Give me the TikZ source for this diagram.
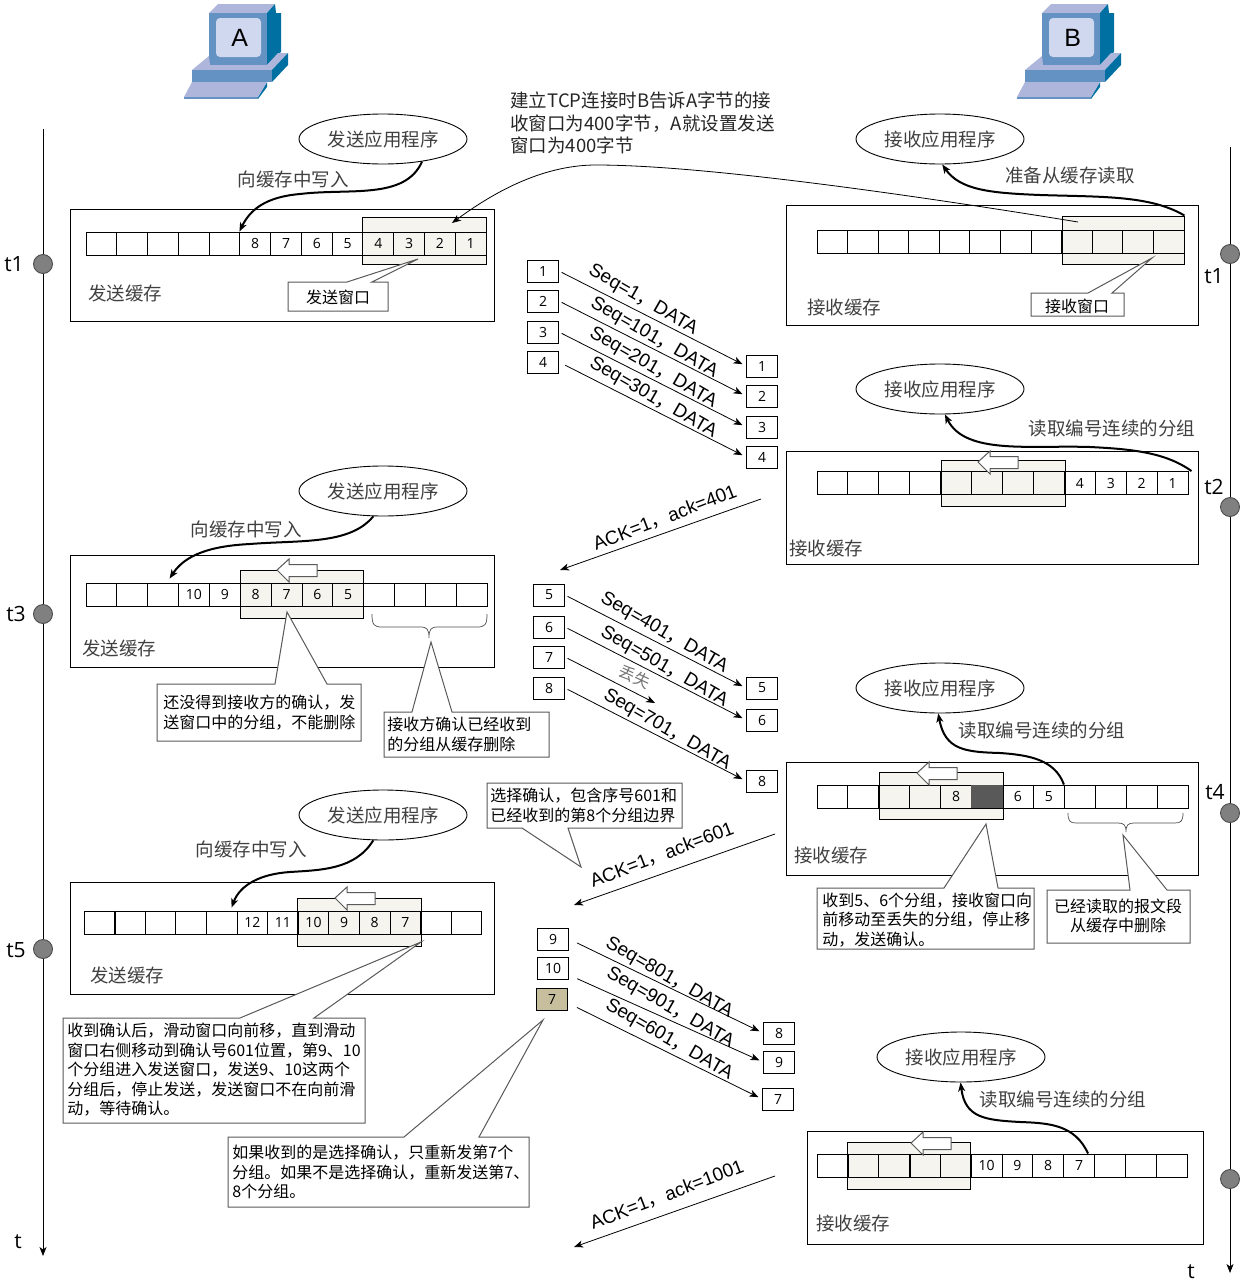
\documentclass[tikz,border=0pt]{standalone}
\usepackage{fontspec}
\usepackage{xcolor}
\usepackage{tikz}
\usetikzlibrary{shapes.geometric, arrows.meta}
\setmainfont{Noto Sans CJK SC}
\newfontfamily\numfont{Open Sans}
\newfontfamily\seqfont{Liberation Sans}
\definecolor{winfill}{HTML}{F5F4EE}
\definecolor{deadcell}{HTML}{595959}
\definecolor{resent}{HTML}{C6BE9C}
\definecolor{pcfront}{HTML}{6492C2}
\definecolor{pctop}{HTML}{AEB6DC}
\definecolor{pcside}{HTML}{0070A2}
\definecolor{pcscreen}{HTML}{D0D8F0}
\newcommand{\cellrow}[5]{\foreach \t [count=\i] in {#5} \node[cell, minimum width=#4pt] (#1\i) at ({#2+(\i-0.5)*#4},#3) {\t};}
\newcommand{\hollow}[2]{\draw[shiftarrow] (#1,#2) -- ++(12,-11) -- ++(0,5.5) -- ++(28,0) -- ++(0,12) -- ++(-28,0) -- ++(0,5.5) -- cycle;}
\tikzset{pics/host/.style={code={
	\fill[pctop] (-30,-25) -- (-21,-34) -- (36,-34) -- (28,-25) -- cycle;
	\fill[pcside] (28,-25) -- (36,-34) -- (37,-25) -- (42,-25) -- (42,14) -- (33,22) -- (28,27) -- cycle;
	\fill[pcfront] (-30,-25) rectangle (28,27);
	\fill[pcscreen, rounded corners=4pt] (-23,-20) rectangle (22,19);
	\fill[pctop] (-47,32) -- (-30,18) -- (-29,27) -- (28,27) -- (39,15) -- (49,15) -- (33,32) -- cycle;
	\fill[pcfront] (-47,32) rectangle (33,44);
	\fill[pcside] (33,32) -- (49,15) -- (49,27) -- (33,44) -- cycle;
	\fill[pcside] (19,61) -- (28,49) -- (28,44) -- (19,59) -- cycle;
	\fill[pctop] (-47,44) -- (28,44) -- (19,59) -- (-55,59) -- cycle;
	\fill[pcfront] (-55,59) rectangle (19,61);
	\node[font=\seqfont\fontsize{25}{25}\selectfont] (-name) at (0.7,0) {#1};
}}}
\begin{document}
\begin{tikzpicture}[x=1pt, y=-1pt, line width=0.9pt, >={Stealth[length=9pt,width=7pt,inset=2.5pt]}]
	\tikzstyle{frame}=[draw=black, inner sep=0pt]
	\tikzstyle{win}=[draw=black, fill=winfill, inner sep=0pt]
	\tikzstyle{cell}=[draw=black, inner sep=0pt, minimum height=23pt, font=\numfont\fontsize{14}{14}\selectfont]
	\tikzstyle{pkt}=[draw=black, fill=white, inner sep=0pt, minimum width=31pt, minimum height=22pt, font=\numfont\fontsize{14}{14}\selectfont]
	\tikzstyle{app}=[ellipse, draw=black, inner sep=0pt, minimum width=168pt, minimum height=50pt, text=black!75, font=\fontsize{18.5}{18.5}\selectfont]
	\tikzstyle{lbl}=[inner sep=0pt, yshift=-1pt, text=black!75, font=\fontsize{18.5}{18.5}\selectfont]
	\tikzstyle{seq}=[inner sep=0pt, yshift=-3pt, rotate=-30, font=\seqfont\fontsize{19}{19}\selectfont]
	\tikzstyle{ack}=[inner sep=0pt, rotate=21, font=\seqfont\fontsize{19}{19}\selectfont]
	\tikzstyle{msg}=[thin, line width=0.8pt, ->, shorten <=3pt, shorten >=4pt]
	\tikzstyle{flow}=[line width=2pt, ->]
	\tikzstyle{note}=[draw=black!65, fill=white, line width=1pt]
	\tikzstyle{notetext}=[inner sep=0pt, anchor=west, align=left, font=\fontsize{16}{19.5}\selectfont]
	\tikzstyle{shiftarrow}=[draw=black!65, fill=white, line width=1pt]
	\tikzstyle{brk}=[draw=black!70, line width=0.7pt]
	\tikzstyle{tick}=[circle, draw=black!70, fill=black!50, inner sep=0pt, minimum size=19pt]
	\tikzstyle{tlabel}=[inner sep=0pt, font=\numfont\fontsize{21}{21}\selectfont]
	\useasboundingbox (0,0) rectangle (1246,1285);

	\pic (hostA) at (239,38) {host=A};
	\pic (hostB) at (1072,38) {host=B};

	\coordinate (topL) at (43,129);
	\coordinate (endL) at (43,1256);
	\coordinate (topR) at (1230,147);
	\coordinate (endR) at (1230,1273);
	\draw[line width=0.8pt, ->] (topL) -- (endL);
	\draw[line width=0.8pt, ->] (topR) -- (endR);
	\node[tick] (tL1) at (43,264) {};
	\node[tick] (tL3) at (43,614) {};
	\node[tick] (tL5) at (43,949) {};
	\node[tick] (tR1) at (1230,254) {};
	\node[tick] (tR2) at (1230,507) {};
	\node[tick] (tR4) at (1230,813) {};
	\node[tick] (tR6) at (1230,1179) {};
	\node[tlabel] (lt1) at (14,264) {t1};
	\node[tlabel] (lt3) at (16,614) {t3};
	\node[tlabel] (lt5) at (16,950) {t5};
	\node[tlabel] (rt1) at (1214,276) {t1};
	\node[tlabel] (rt2) at (1214,487) {t2};
	\node[tlabel] (rt4) at (1215,792) {t4};
	\node[tlabel] (lt) at (18,1242) {t};
	\node[tlabel] (rt) at (1191,1272) {t};

	\node[frame, minimum width=424pt, minimum height=112pt] (sbuf1) at (282,265) {};
	\node[frame, minimum width=412pt, minimum height=120pt] (rbuf1) at (992,265) {};
	\node[frame, minimum width=412pt, minimum height=113pt] (rbuf2) at (992,507.5) {};
	\node[frame, minimum width=424pt, minimum height=112pt] (sbuf2) at (282,611) {};
	\node[frame, minimum width=412pt, minimum height=113pt] (rbuf3) at (992,818.5) {};
	\node[frame, minimum width=424pt, minimum height=112pt] (sbuf3) at (282,938) {};
	\node[frame, minimum width=396pt, minimum height=113pt] (rbuf4) at (1005,1187.5) {};

	\node[win, minimum width=124pt, minimum height=47pt] (swin1) at (424,240.5) {};
	\node[win, minimum width=122pt, minimum height=48pt] (rwin1) at (1123,240) {};
	\node[win, minimum width=124pt, minimum height=46pt] (rwin2) at (1003,483) {};
	\node[win, minimum width=123pt, minimum height=48pt] (swin2) at (301.5,594) {};
	\node[win, minimum width=124pt, minimum height=47pt] (rwin3) at (941,795.5) {};
	\node[win, minimum width=124pt, minimum height=48pt] (swin3) at (359,922) {};
	\node[win, minimum width=123pt, minimum height=47pt] (rwin4) at (908.5,1165.5) {};

	\cellrow{sa}{86}{243.5}{30.77}{{},{},{},{},{},8,7,6,5,4,3,2,1}
	\cellrow{ra}{817}{241.5}{30.58}{{},{},{},{},{},{},{},{},{},{},{},{}}
	\cellrow{rb}{817}{483}{30.92}{{},{},{},{},{},{},{},{},4,3,2,1}
	\cellrow{sb}{86}{594.5}{30.85}{{},{},{},10,9,8,7,6,5,{},{},{},{}}
	\cellrow{rc}{817}{796.5}{30.92}{{},{},{},{},8,{},6,5,{},{},{},{}}
	\cellrow{sc}{84}{922.5}{30.6}{{},{},{},{},{},12,11,10,9,8,7,{},{}}
	\cellrow{rd}{817}{1165.5}{30.83}{{},{},{},{},{},10,9,8,7,{},{},{}}
	\fill[deadcell] (rc6.south west) rectangle (rc6.north east);
	\draw[line width=1.6pt] (ra2.north east) -- (ra2.south east);
	\draw[line width=1.6pt] (sc1.north east) -- (sc1.south east);
	\draw[line width=2pt] (rd1.north east) -- (rd1.south east);
	\draw[line width=1.6pt] (rd3.north east) -- (rd3.south east);

	\hollow{978}{462}
	\hollow{277}{570}
	\hollow{917}{773}
	\hollow{335}{898}
	\hollow{911}{1143}

	\node[lbl] (sname1) at (125,292) {发送缓存};
	\node[lbl] (rname1) at (844,306) {接收缓存};
	\node[lbl] (rname2) at (826,547) {接收缓存};
	\node[lbl] (sname2) at (119,647) {发送缓存};
	\node[lbl] (rname3) at (831,854) {接收缓存};
	\node[lbl] (sname3) at (127,974) {发送缓存};
	\node[lbl] (rname4) at (853,1222) {接收缓存};

	\node[app] (sapp1) at (383,139) {发送应用程序};
	\node[app] (rapp1) at (940,139) {接收应用程序};
	\node[app] (rapp2) at (940,389) {接收应用程序};
	\node[app] (sapp2) at (383,491) {发送应用程序};
	\node[app] (rapp3) at (940,688) {接收应用程序};
	\node[app] (sapp3) at (383,815) {发送应用程序};
	\node[app] (rapp4) at (961,1057) {接收应用程序};

	\draw[flow] (sapp1.-30) .. controls (405,200) and (350,188) .. (300,194) .. controls (265,197) and (250,210) .. (sa6.north west);
	\draw[flow] (rwin1.north east) .. controls (1150,195) and (1100,197) .. (1040,195) .. controls (990,193) and (960,190) .. (rapp1.-85);
	\draw[flow] ([xshift=3pt]rb12.north east) .. controls (1165,452) and (1130,449) .. (1090,447) .. controls (1030,445) and (965,455) .. (rapp2.-79);
	\draw[flow] (sapp2.-111) .. controls (350,545) and (300,540) .. (250,544) .. controls (210,546) and (185,555) .. ([shift={(-8.5pt,4pt)}]sb4.north west);
	\draw[flow] (rc9.north west) .. controls (1055,760) and (1030,755) .. (1000,753) .. controls (965,752) and (945,750) .. (rapp3.-94);
	\draw[flow] (sapp3.-111) .. controls (355,870) and (320,870) .. (290,872) .. controls (260,874) and (240,885) .. ([shift={(-5pt,3pt)}]sc6.north west);
	\draw[flow] ([xshift=9pt]rd9.north) .. controls (1075,1125) and (1050,1123) .. (1020,1122) .. controls (985,1120) and (965,1118) .. (rapp4.-91);

	\node[lbl] (put1) at (293,178) {向缓存中写入};
	\node[lbl] (get1) at (1070,174) {准备从缓存读取};
	\node[lbl] (get2) at (1112,427) {读取编号连续的分组};
	\node[lbl] (put2) at (246,528) {向缓存中写入};
	\node[lbl] (get3) at (1042,729) {读取编号连续的分组};
	\node[lbl] (put3) at (251,848) {向缓存中写入};
	\node[lbl] (get4) at (1063,1098) {读取编号连续的分组};

	\node[inner sep=0pt, anchor=west, align=left, font=\fontsize{18.5}{22.5}\selectfont, text=black!85] (tell) at (510,123) {建立TCP连接时B告诉A字节的接\\收窗口为400字节，A就设置发送\\窗口为400字节};
	\coordinate (tellFrom) at (1078,222);
	\coordinate (tellTo) at (452,223);
	\draw[line width=0.8pt, ->] (tellFrom) .. controls (900,193) and (700,165) .. (596,165) .. controls (540,165) and (490,195) .. (tellTo);

	\node[pkt] (s1) at (543,271) {1};
	\node[pkt] (s2) at (543,301) {2};
	\node[pkt] (s3) at (543,332) {3};
	\node[pkt] (s4) at (543,362) {4};
	\node[pkt] (r1) at (762,366) {1};
	\node[pkt] (r2) at (762,396) {2};
	\node[pkt] (r3) at (762,427) {3};
	\node[pkt] (r4) at (762,457) {4};
	\draw[msg] (s1.east) -- (r1.west);
	\draw[msg] (s2.east) -- (r2.west);
	\draw[msg] (s3.east) -- (r3.west);
	\draw[msg, shorten <=7pt] (s4.east) -- (r4.west);
	\node[seq] (seq1) at (643,297) {Seq=1{\rmfamily ，}DATA};
	\node[seq] (seq2) at (654,335) {Seq=101{\rmfamily ，}DATA};
	\node[seq] (seq3) at (653,365) {Seq=201{\rmfamily ，}DATA};
	\node[seq] (seq4) at (653,395) {Seq=301{\rmfamily ，}DATA};

	\coordinate (ack1From) at (761,499);
	\coordinate (ack1To) at (560,570);
	\draw[line width=0.8pt, ->] (ack1From) -- (ack1To);
	\node[ack] (ack1) at (665,518) {ACK=1{\rmfamily ，}ack=401};

	\node[pkt] (s5) at (549,595) {5};
	\node[pkt] (s6) at (549,627) {6};
	\node[pkt] (s7) at (549,657) {7};
	\node[pkt] (s8) at (549,688) {8};
	\node[pkt] (r5) at (762,688) {5};
	\node[pkt] (r6) at (762,720) {6};
	\node[pkt] (r8) at (762,781) {8};
	\coordinate (lost) at (655,703);
	\draw[msg] (s5.east) -- (r5.west);
	\draw[msg] (s6.east) -- (r6.west);
	\draw[msg, shorten >=0pt] (s7.east) -- (lost);
	\draw[msg] (s8.east) -- (r8.west);
	\node[seq] (seq5) at (664,630) {Seq=401{\rmfamily ，}DATA};
	\node[seq] (seq6) at (664,664) {Seq=501{\rmfamily ，}DATA};
	\node[seq] (seq8) at (667,727) {Seq=701{\rmfamily ，}DATA};
	\node[inner sep=0pt, rotate=-25, text=black!55, font=\fontsize{16}{16}\selectfont] (lostname) at (635,677) {丢失};

	\coordinate (ack2From) at (775,834);
	\coordinate (ack2To) at (574,905);
	\draw[line width=0.8pt, ->] (ack2From) -- (ack2To);
	\node[ack] (ack2) at (662,855) {ACK=1{\rmfamily ，}ack=601};

	\node[pkt] (s9) at (553,939) {9};
	\node[pkt] (s10) at (553,968) {10};
	\node[pkt, fill=resent] (s7b) at (552,999) {7};
	\node[pkt] (r8b) at (779,1033) {8};
	\node[pkt] (r9) at (779,1062) {9};
	\node[pkt] (r7b) at (778,1099) {7};
	\draw[msg, shorten <=9pt] (s9.east) -- (r8b.west);
	\draw[msg, shorten <=9pt] ([yshift=-7pt]s10.east) -- (r9.west);
	\draw[msg, shorten <=10pt] ([yshift=-4pt]s7b.east) -- (r7b.west);
	\node[seq] (seq9) at (669,975) {Seq=801{\rmfamily ，}DATA};
	\node[seq] (seq10) at (670,1005) {Seq=901{\rmfamily ，}DATA};
	\node[seq] (seq7) at (669,1037) {Seq=601{\rmfamily ，}DATA};

	\coordinate (ack3From) at (775,1176);
	\coordinate (ack3To) at (574,1247);
	\draw[line width=0.8pt, ->] (ack3From) -- (ack3To);
	\node[ack] (ack3) at (667,1195) {ACK=1{\rmfamily ，}ack=1001};

	\draw[brk] (372,614) .. controls (372,625) and (374,627) .. (382,627) -- (420,627) .. controls (427,627) and (429,629) .. (429,638) .. controls (429,629) and (431,627) .. (438,627) -- (477,627) .. controls (485,627) and (487,625) .. (487,614);
	\draw[brk] (1068,813) .. controls (1068,821) and (1070,823) .. (1076,823) -- (1118,823) .. controls (1124,823) and (1126,825) .. (1126,832) .. controls (1126,825) and (1128,823) .. (1134,823) -- (1175,823) .. controls (1181,823) and (1183,821) .. (1183,813);

	\draw[note] (288,282) -- (347,282) -- (418,259) -- (372,282) -- (388,282) -- (388,311) -- (288,311) -- cycle;
	\node[lbl, text=black, font=\fontsize{16}{16}\selectfont] (swname) at (338,296) {发送窗口};
	\draw[note] (1031,293) -- (1088,293) -- (1152,258) -- (1112,293) -- (1124,293) -- (1124,316) -- (1031,316) -- cycle;
	\node[lbl, text=black, font=\fontsize{16}{16}\selectfont] (rwname) at (1077,305) {接收窗口};
	\draw[note] (157,684) -- (275,684) -- (287,612) -- (327,684) -- (361,684) -- (361,741) -- (157,741) -- cycle;
	\node[notetext] (keep) at (163,712.5) {还没得到接收方的确认，发\\送窗口中的分组，不能删除};
	\draw[note] (384,712) -- (412,712) -- (431,642) -- (452,712) -- (549,712) -- (549,757) -- (384,757) -- cycle;
	\node[notetext] (drop) at (387,734.5) {接收方确认已经收到\\的分组从缓存删除};
	\draw[note] (487,783) -- (682,783) -- (682,828) -- (568,828) -- (581,867) -- (522,828) -- (487,828) -- cycle;
	\node[notetext] (sack) at (490,805.5) {选择确认，包含序号601和\\已经收到的第8个分组边界};
	\draw[note] (817,888) -- (944,888) -- (986,824) -- (998,888) -- (1034,888) -- (1034,949) -- (817,949) -- cycle;
	\node[notetext] (stop) at (822,920) {收到5、6个分组，接收窗口向\\前移动至丢失的分组，停止移\\动，发送确认。};
	\draw[note] (1047,890) -- (1130,890) -- (1123,835) -- (1167,890) -- (1190,890) -- (1190,943) -- (1047,943) -- cycle;
	\node[notetext, anchor=center, align=center] (gone) at (1118,916) {已经读取的报文段\\从缓存中删除};
	\draw[note] (63,1018) -- (240,1018) -- (421,942) -- (314,1018) -- (365,1018) -- (365,1123) -- (63,1123) -- cycle;
	\node[notetext] (slide) at (67,1070) {收到确认后，滑动窗口向前移，直到滑动\\窗口右侧移动到确认号601位置，第9、10\\个分组进入发送窗口，发送9、10这两个\\分组后，停止发送，发送窗口不在向前滑\\动，等待确认。};
	\draw[note] (228,1137) -- (404,1137) -- (543,1020) -- (479,1137) -- (529,1137) -- (529,1207) -- (228,1207) -- cycle;
	\node[notetext] (again) at (232,1172) {如果收到的是选择确认，只重新发第7个\\分组。如果不是选择确认，重新发送第7、\\8个分组。};
\end{tikzpicture}
\end{document}
